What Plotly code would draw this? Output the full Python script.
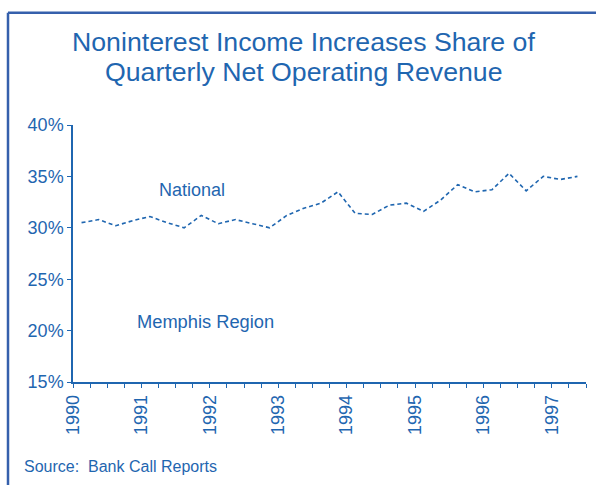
import plotly.graph_objects as go

# Quarterly data, 1990Q1 .. 1997Q2 (percent of net operating revenue)
quarters = [f"{y}Q{q}" for y in range(1990, 1998) for q in range(1, 5)][:30]
national = [30.5, 30.8, 30.2, 30.7, 31.1, 30.5, 30.0, 31.2,
            30.4, 30.8, 30.4, 30.0, 31.2, 31.9, 32.4, 33.5,
            31.4, 31.3, 32.2, 32.4, 31.6, 32.7, 34.2, 33.5,
            33.7, 35.3, 33.6, 35.0, 34.7, 35.0]
year_ticks = list(range(1990, 1998))
year_labels = [str(y) for y in year_ticks]
y_ticks = [15, 20, 25, 30, 35, 40]
y_labels = [f"{v}%" for v in y_ticks]

# quarter index -> fractional year at the middle of the quarter
xpos = [int(q[:4]) + (int(q[-1]) - 1) * 0.25 + 0.125 for q in quarters]

BLUE = "#1f66b0"
FONT = "Liberation Sans, Arial, sans-serif"

fig = go.Figure()
fig.add_trace(go.Scatter(
    x=xpos, y=national, mode="lines", name="National",
    line=dict(color=BLUE, width=1.6, dash="4px,3px"),
    showlegend=False, hoverinfo="skip"))

fig.update_layout(
    width=596, height=485,
    margin=dict(l=73, r=10, t=125, b=103),
    paper_bgcolor="white", plot_bgcolor="white",
    font=dict(family=FONT, color=BLUE),
    xaxis=dict(range=[1990, 1997.5], tickvals=year_ticks, ticktext=year_labels,
               tickangle=-90, showgrid=False, zeroline=False,
               showline=True, linecolor=BLUE, linewidth=1.5,
               ticks="outside", ticklen=4, tickcolor=BLUE,
               minor=dict(dtick=0.25, tick0=1990, ticks="outside", ticklen=4, tickcolor=BLUE),
               tickfont=dict(size=18, color=BLUE, family=FONT)),
    yaxis=dict(range=[15, 40], tickvals=y_ticks, ticktext=y_labels,
               showgrid=False, zeroline=False,
               showline=True, linecolor=BLUE, linewidth=1.5,
               ticks="outside", ticklen=4, tickcolor=BLUE,
               tickfont=dict(size=18, color=BLUE, family=FONT)),
)

ann = [
    dict(text="Noninterest Income Increases Share of", x=0.450, y=1.3234, size=26.7, xanchor="center"),
    dict(text="Quarterly Net Operating Revenue", x=0.450, y=1.2065, size=26.7, xanchor="center"),
    dict(text="National", x=0.232, y=0.7468, size=18, xanchor="center"),
    dict(text="Memphis Region", x=0.258, y=0.2365, size=18.3, xanchor="center"),
    dict(text="Source:  Bank Call Reports", x=-0.0985, y=-0.3284, size=16, xanchor="left"),
]
for a in ann:
    fig.add_annotation(text=a["text"], x=a["x"], y=a["y"], xref="paper", yref="paper",
                       xanchor=a["xanchor"], yanchor="middle", showarrow=False,
                       font=dict(size=a["size"], color=BLUE, family=FONT))

BORDER = "#3560ac"
fig.add_shape(type="line", xref="paper", yref="paper", x0=-0.1267, x1=-0.1267,
              y0=-0.5, y1=1.4363, line=dict(color=BORDER, width=2.5))
fig.add_shape(type="line", xref="paper", yref="paper", x0=-0.1267, x1=1.1,
              y0=1.4363, y1=1.4363, line=dict(color=BORDER, width=2.5))

fig.write_html("out.html", config={"displayModeBar": False},
               post_script="document.body.style.margin='0';")
